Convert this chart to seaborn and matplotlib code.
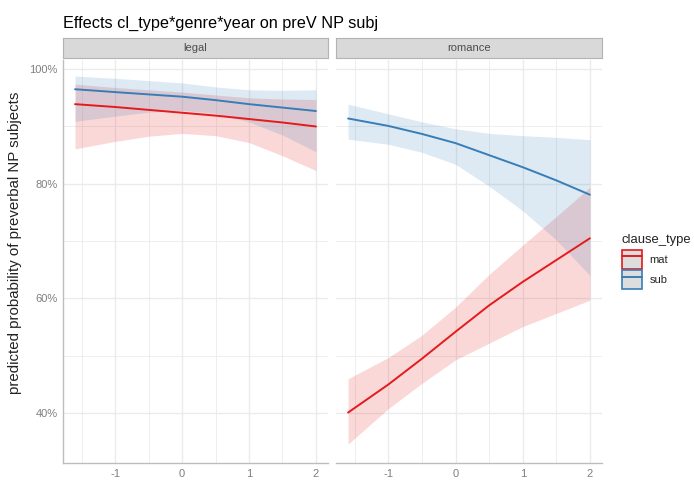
import numpy as np
import pandas as pd
import matplotlib
matplotlib.use("Agg")
import matplotlib.pyplot as plt
import seaborn as sns
from matplotlib.patches import Patch
from matplotlib.lines import Line2D
from matplotlib.legend_handler import HandlerTuple
from matplotlib.ticker import FuncFormatter, FixedLocator

# ---------------- data (percent) ----------------
year = [-1.6, -1.0, -0.5, 0.0, 0.5, 1.0, 1.5, 2.0]
genres = ["legal", "romance"]
clause_types = ["mat", "sub"]

legal_mat_fit = [93.9, 93.4, 92.9, 92.4, 91.9, 91.3, 90.7, 90.0]
legal_mat_lo = [86.1, 87.4, 88.3, 88.8, 88.4, 87.2, 84.9, 82.3]
legal_mat_hi = [97.4, 96.8, 96.4, 96.0, 95.5, 95.0, 94.8, 94.7]

legal_sub_fit = [96.5, 96.0, 95.6, 95.2, 94.6, 93.9, 93.3, 92.7]
legal_sub_lo = [90.9, 91.8, 92.5, 92.8, 92.3, 90.8, 88.5, 85.6]
legal_sub_hi = [98.8, 98.4, 98.0, 97.6, 96.9, 96.4, 96.3, 96.4]

romance_mat_fit = [40.1, 45.0, 49.5, 54.2, 58.8, 62.9, 66.7, 70.5]
romance_mat_lo = [34.6, 40.8, 45.2, 49.3, 52.2, 55.1, 57.4, 59.7]
romance_mat_hi = [46.0, 49.7, 53.6, 58.5, 64.2, 69.3, 74.3, 79.4]

romance_sub_fit = [91.4, 90.1, 88.7, 87.1, 85.0, 82.9, 80.6, 78.1]
romance_sub_lo = [87.8, 86.9, 85.5, 83.4, 79.6, 75.3, 70.2, 64.0]
romance_sub_hi = [93.9, 92.2, 90.8, 89.6, 88.8, 88.4, 88.1, 87.7]

y_ticks = [40, 60, 80, 100]
x_ticks = [-1, 0, 1, 2]

series = {
    ("legal", "mat"): (legal_mat_fit, legal_mat_lo, legal_mat_hi),
    ("legal", "sub"): (legal_sub_fit, legal_sub_lo, legal_sub_hi),
    ("romance", "mat"): (romance_mat_fit, romance_mat_lo, romance_mat_hi),
    ("romance", "sub"): (romance_sub_fit, romance_sub_lo, romance_sub_hi),
}
rows = []
for (g, c), (f, lo, hi) in series.items():
    for x, a, b, d in zip(year, f, lo, hi):
        rows.append(dict(genre=g, clause_type=c, year=x, fit=a, lower=b, upper=d))
df = pd.DataFrame(rows)

# ---------------- style ----------------
sns.set_theme(style="white")
plt.rcParams["font.family"] = ["Liberation Sans", "DejaVu Sans"]
palette = {"mat": "#E41A1C", "sub": "#377EB8"}

W, H = 694, 483
fig = plt.figure(figsize=(W / 100, H / 100), dpi=100)

def fx(px):
    return px / W

def fy(py):
    return 1 - py / H

panel_top, panel_bot = 60, 463
panels = [(63, 328), (336, 602)]
grid_c = "#EBEBEB"

for i, (g, (x0, x1)) in enumerate(zip(genres, panels)):
    ax = fig.add_axes([fx(x0), fy(panel_bot), fx(x1 - x0), (panel_bot - panel_top) / H])
    sub = df[df.genre == g]
    for c in clause_types:
        s = sub[sub.clause_type == c]
        ax.fill_between(s.year, s.lower, s.upper, color=palette[c], alpha=0.17,
                        linewidth=0, zorder=2)
    sns.lineplot(data=sub, x="year", y="fit", hue="clause_type", palette=palette,
                 estimator=None, ax=ax, legend=False, linewidth=1.4, zorder=3)
    ax.set_xlim(-1.78, 2.18)
    ax.set_ylim(31.3, 101.6)
    ax.xaxis.set_major_locator(FixedLocator(x_ticks))
    ax.xaxis.set_minor_locator(FixedLocator([-1.5, -0.5, 0.5, 1.5]))
    ax.yaxis.set_major_locator(FixedLocator(y_ticks))
    ax.yaxis.set_minor_locator(FixedLocator([50, 70, 90]))
    ax.grid(True, which="major", color=grid_c, linewidth=1.0, zorder=0)
    ax.grid(True, which="minor", color=grid_c, linewidth=0.6, zorder=0)
    ax.set_axisbelow(True)
    ax.set_xlabel("")
    ax.set_ylabel("")
    ax.tick_params(axis="both", which="both", length=0, labelsize=8,
                   labelcolor="#7F7F7F", pad=4)
    ax.set_xticklabels(["-1", "0", "1", "2"])
    for sp in ["top", "right"]:
        ax.spines[sp].set_visible(False)
    ax.spines["bottom"].set_color("#BDBDBD")
    ax.spines["bottom"].set_linewidth(1.0)
    if i == 0:
        ax.spines["left"].set_color("#BDBDBD")
        ax.spines["left"].set_linewidth(1.0)
        ax.yaxis.set_major_formatter(FuncFormatter(lambda v, p: f"{v:.0f}%"))
        ax.set_ylabel("predicted probability of preverbal NP subjects",
                      fontsize=10.8, color="#222222")
        ax.yaxis.set_label_coords((22 - x0) / (x1 - x0), 0.547)
    else:
        ax.spines["left"].set_visible(False)
        ax.set_yticklabels([])

    # facet strip
    sax = fig.add_axes([fx(x0), fy(58), fx(x1 - x0), 20 / H])
    sax.set_facecolor("#D9D9D9")
    sax.set_xticks([])
    sax.set_yticks([])
    for sp in sax.spines.values():
        sp.set_color("#B3B3B3")
        sp.set_linewidth(0.8)
    sax.text(0.5, 0.5, g, ha="center", va="center", fontsize=8, color="#4D4D4D",
             transform=sax.transAxes)

fig.text(fx(63), fy(28), "Effects cl_type*genre*year on preV NP subj",
         fontsize=11.7, color="black", ha="left", va="baseline")

# legend
fig.text(fx(621), fy(243), "clause_type", fontsize=9.4, color="#222222",
         ha="left", va="baseline")
handles = []
for c in clause_types:
    handles.append((Patch(facecolor="#DDDDDD", edgecolor=palette[c], linewidth=1.2),
                    Line2D([], [], color=palette[c], linewidth=1.4)))
leg = fig.legend(handles, clause_types,
                 handler_map={tuple: HandlerTuple(ndivide=1, pad=0)},
                 loc="upper left", bbox_to_anchor=(fx(622), fy(250)),
                 frameon=False, fontsize=8,
                 handlelength=1.8, handleheight=2.2, handletextpad=0.7,
                 labelspacing=0.15, borderaxespad=0, borderpad=0)

fig.savefig("out.png", dpi=100)
